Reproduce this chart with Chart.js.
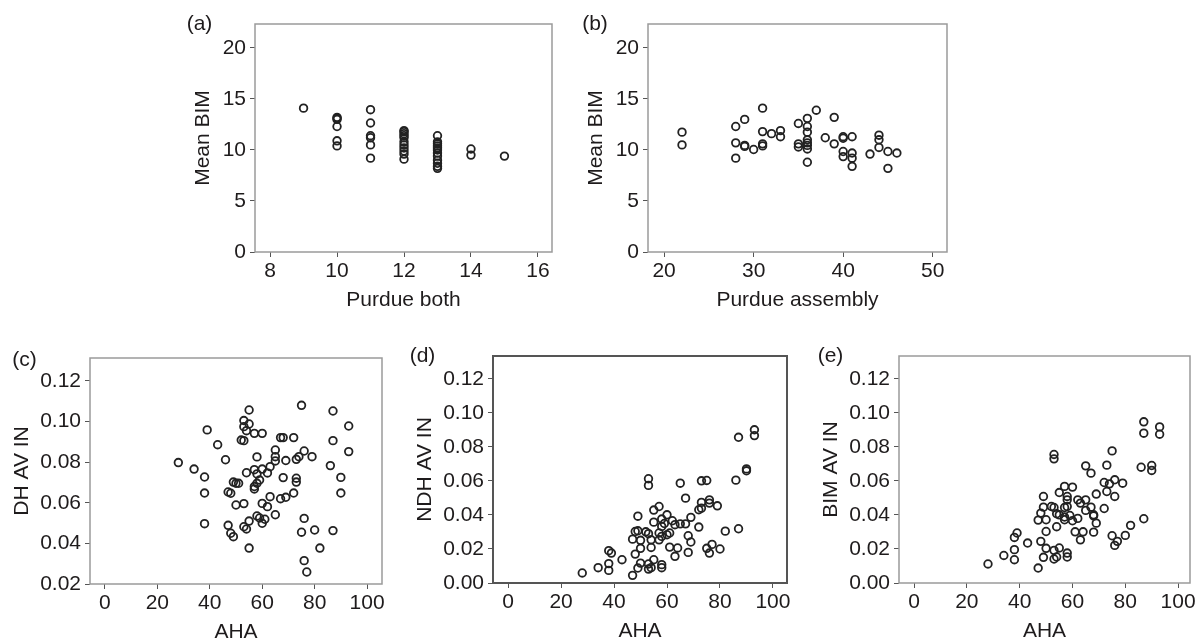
<!DOCTYPE html>
<html>
<head>
<meta charset="utf-8">
<script src="https://cdn.jsdelivr.net/npm/chart.js@4.4.1/dist/chart.umd.min.js"></script>
<style>
  html, body { margin: 0; padding: 0; background: #fff; }
  body { width: 1200px; height: 641px; position: relative; overflow: hidden; }
  canvas { position: absolute; }
</style>
</head>
<body>
<canvas id="ca"></canvas>
<canvas id="cb"></canvas>
<canvas id="cc"></canvas>
<canvas id="cd"></canvas>
<canvas id="ce"></canvas>
<script>
// ---- data ----
const panelLabels = ["(a)", "(b)", "(c)", "(d)", "(e)"];
const xTitles = ["Purdue both", "Purdue assembly", "AHA", "AHA", "AHA"];
const yTitles = ["Mean BIM", "Mean BIM", "DH AV IN", "NDH AV IN", "BIM AV IN"];

const purdueBothTicks = [8, 10, 12, 14, 16];
const purdueAssemblyTicks = [20, 30, 40, 50];
const ahaTicks = [0, 20, 40, 60, 80, 100];
const bimTicks = [0, 5, 10, 15, 20];
const dhTicks = [0.02, 0.04, 0.06, 0.08, 0.10, 0.12];
const avTicks = [0.00, 0.02, 0.04, 0.06, 0.08, 0.10, 0.12];

// (a) Purdue both vs Mean BIM
const purdueBoth = [9, 10, 10, 10, 10, 10, 10, 11, 11, 11, 11, 11, 11,
  12, 12, 12, 12, 12, 12, 12, 12, 12, 12, 12,
  13, 13, 13, 13, 13, 13, 13, 13, 13, 13, 13, 13, 14, 14, 15];
const meanBimA = [14.1, 13.2, 13.1, 13.0, 12.3, 10.9, 10.4, 13.95, 12.65, 11.4, 11.2, 10.5, 9.2,
  11.9, 11.8, 11.6, 11.4, 11.2, 10.8, 10.5, 10.2, 9.9, 9.6, 9.1,
  11.4, 10.8, 10.6, 10.4, 10.2, 10.0, 9.7, 9.4, 9.0, 8.7, 8.4, 8.2, 10.1, 9.5, 9.4];

// (b) Purdue assembly vs Mean BIM
const purdueAssembly = [22, 22, 28, 28, 28, 29, 29, 29, 30, 31, 31, 31, 31, 32, 33,
  33, 35, 35, 35, 36, 36, 36, 36, 36, 36, 36, 36, 37, 38, 39,
  39, 40, 40, 40, 40, 41, 41, 41, 41, 43, 44, 44, 44, 45, 45, 46];
const meanBimB = [11.75, 10.5, 12.3, 10.7, 9.2, 13.0, 10.45, 10.35, 10.05, 14.1, 11.8, 10.6, 10.4, 11.6, 11.9,
  11.3, 12.6, 10.6, 10.3, 13.1, 12.3, 11.75, 11.0, 10.7, 10.45, 10.1, 8.8, 13.9, 11.2, 13.2,
  10.6, 11.3, 11.15, 9.85, 9.35, 11.3, 9.7, 9.2, 8.4, 9.6, 11.45, 11.0, 10.25, 9.85, 8.2, 9.7];

// (c) AHA vs DH AV IN
const ahaC = [28, 34, 38, 38, 38, 39, 43, 46, 47, 48, 47, 48, 49, 49, 50, 51, 50, 52, 53, 53,
  53, 54, 55, 55, 54, 53, 53, 54, 55, 55, 57, 60, 58, 57, 58, 59, 58, 57, 57, 58,
  59, 60, 60, 61, 60, 62, 63, 62, 63, 65, 65, 65, 65, 67, 68, 68, 67, 69, 69, 72,
  73, 74, 72, 73, 73, 75, 76, 76, 75, 76, 77, 79, 80, 82, 86, 87, 87, 87, 90, 90, 93, 93];
const dhAvIn = [0.0798, 0.0766, 0.0727, 0.0648, 0.0497, 0.0959, 0.0886, 0.0812, 0.0653, 0.0647,
  0.0489, 0.0450, 0.0433, 0.0702, 0.0696, 0.0696, 0.0589, 0.0909, 0.0906, 0.1005,
  0.0975, 0.0955, 0.0988, 0.1057, 0.0748, 0.0596, 0.0482, 0.0471, 0.0510, 0.0377,
  0.0942, 0.0942, 0.0826, 0.0763, 0.0742, 0.0712, 0.0696, 0.0680, 0.0668, 0.0535,
  0.0525, 0.0597, 0.0499, 0.0519, 0.0766, 0.0747, 0.0778, 0.0581, 0.0630, 0.0541,
  0.0860, 0.0827, 0.0806, 0.0921, 0.0921, 0.0724, 0.0620, 0.0627, 0.0808, 0.0921,
  0.0814, 0.0827, 0.0648, 0.0721, 0.0702, 0.1080, 0.0855, 0.0523, 0.0455, 0.0315,
  0.0259, 0.0827, 0.0466, 0.0377, 0.0783, 0.1052, 0.0906, 0.0463, 0.0725, 0.0648,
  0.0978, 0.0852];

// (d) AHA vs NDH AV IN
const ahaD = [28, 34, 38, 39, 38, 38, 43, 47, 48, 47, 49, 48, 49, 50, 50, 49, 50, 52, 53, 53,
  53, 53, 53, 54, 54, 54, 55, 55, 55, 57, 57, 57, 58, 58, 58, 58, 58, 60, 60, 59,
  61, 61, 62, 63, 63, 64, 65, 65, 67, 67, 68, 68, 69, 69, 72, 72, 73, 73, 73, 75,
  75, 76, 76, 76, 77, 79, 80, 82, 86, 87, 87, 90, 90, 93, 93];
const ndhAvIn = [0.0059, 0.0090, 0.0190, 0.0176, 0.0114, 0.0074, 0.0137, 0.0258, 0.0170, 0.0045,
  0.0393, 0.0303, 0.0307, 0.0251, 0.0204, 0.0088, 0.0117, 0.0301, 0.0613, 0.0574,
  0.0290, 0.0112, 0.0082, 0.0209, 0.0254, 0.0090, 0.0429, 0.0358, 0.0137, 0.0450,
  0.0294, 0.0254, 0.0376, 0.0333, 0.0274, 0.0108, 0.0090, 0.0401, 0.0284, 0.0350,
  0.0294, 0.0211, 0.0366, 0.0343, 0.0157, 0.0206, 0.0348, 0.0587, 0.0499, 0.0348,
  0.0278, 0.0180, 0.0386, 0.0241, 0.0329, 0.0431, 0.0601, 0.0474, 0.0440, 0.0603,
  0.0204, 0.0489, 0.0470, 0.0176, 0.0227, 0.0454, 0.0200, 0.0305, 0.0605, 0.0857,
  0.0319, 0.0671, 0.0660, 0.0901, 0.0867];

// (e) AHA vs BIM AV IN
const ahaE = [28, 34, 38, 38, 38, 39, 43, 47, 48, 48, 47, 49, 49, 49, 50, 50, 50, 52, 53, 53,
  53, 53, 53, 54, 54, 54, 55, 55, 55, 57, 57, 57, 57, 58, 58, 58, 58, 58, 60, 60,
  59, 61, 62, 62, 63, 63, 64, 65, 65, 65, 67, 67, 68, 68, 68, 69, 69, 72, 72, 73,
  73, 74, 75, 75, 76, 76, 76, 77, 79, 80, 82, 86, 87, 87, 87, 90, 90, 93, 93];
const bimAvIn = [0.0112, 0.0162, 0.0196, 0.0137, 0.0268, 0.0294, 0.0235, 0.0370, 0.0411, 0.0245,
  0.0088, 0.0509, 0.0446, 0.0151, 0.0372, 0.0303, 0.0204, 0.0450, 0.0756, 0.0730,
  0.0444, 0.0192, 0.0141, 0.0407, 0.0331, 0.0153, 0.0532, 0.0401, 0.0206, 0.0568,
  0.0444, 0.0372, 0.0388, 0.0509, 0.0489, 0.0450, 0.0176, 0.0153, 0.0564, 0.0366,
  0.0397, 0.0301, 0.0489, 0.0380, 0.0470, 0.0254, 0.0301, 0.0489, 0.0427, 0.0689,
  0.0646, 0.0446, 0.0401, 0.0395, 0.0299, 0.0352, 0.0523, 0.0438, 0.0591, 0.0693,
  0.0538, 0.0583, 0.0777, 0.0278, 0.0607, 0.0509, 0.0221, 0.0245, 0.0587, 0.0280,
  0.0339, 0.0681, 0.0948, 0.0881, 0.0378, 0.0691, 0.0662, 0.0918, 0.0875];

// ---- layout ----
const FONT = "'Liberation Sans', Arial, Helvetica, sans-serif";
const INK = "#1e1b1c";
const PAD = { left: 4, top: 22, right: 25, bottom: 2 };
const X_AXIS_H = 65;

const panels = [
  { id: "ca", xs: purdueBoth, ys: meanBimA, xTicks: purdueBothTicks, yTicks: bimTicks, dec: 0,
    xMin: 7.55, xMax: 16.42, yMin: 0, yMax: 22.35,
    box: { l: 255, t: 24, r: 552, b: 252 }, yw: 68, lab: [-55.5, 0], frame: "#9a9a9a", fw: 1.5 },
  { id: "cb", xs: purdueAssembly, ys: meanBimB, xTicks: purdueAssemblyTicks, yTicks: bimTicks, dec: 0,
    xMin: 18.2, xMax: 51.6, yMin: 0, yMax: 22.35,
    box: { l: 648, t: 24, r: 947, b: 252 }, yw: 68, lab: [-53, 0], frame: "#9a9a9a", fw: 1.5 },
  { id: "cc", xs: ahaC, ys: dhAvIn, xTicks: ahaTicks, yTicks: dhTicks, dec: 2,
    xMin: -5.7, xMax: 105.7, yMin: 0.02, yMax: 0.1313,
    box: { l: 90, t: 358, r: 382, b: 584 }, yw: 84, lab: [-65.5, 2], frame: "#9a9a9a", fw: 1.5 },
  { id: "cd", xs: ahaD, ys: ndhAvIn, xTicks: ahaTicks, yTicks: avTicks, dec: 2,
    xMin: -5.7, xMax: 105.3, yMin: 0, yMax: 0.1335,
    box: { l: 493, t: 356, r: 787, b: 583 }, yw: 84, lab: [-70.5, 0], frame: "#555555", fw: 2 },
  { id: "ce", xs: ahaE, ys: bimAvIn, xTicks: ahaTicks, yTicks: avTicks, dec: 2,
    xMin: -5.7, xMax: 104.5, yMin: 0, yMax: 0.1335,
    box: { l: 899, t: 356, r: 1190, b: 583 }, yw: 84, lab: [-68.5, 0], frame: "#9a9a9a", fw: 1.5 },
];

// frame around the plot area + the panel letter
const framePlugin = {
  id: "frame",
  beforeDatasetsDraw(chart, args, opts) {
    const { ctx, chartArea: a } = chart;
    ctx.save();
    ctx.strokeStyle = opts.color;
    ctx.lineWidth = opts.width;
    ctx.strokeRect(a.left, a.top, a.right - a.left, a.bottom - a.top);
    ctx.restore();
  },
  afterDraw(chart, args, opts) {
    const { ctx, chartArea: a } = chart;
    ctx.save();
    ctx.fillStyle = INK;
    ctx.font = "21px " + FONT;
    ctx.textAlign = "center";
    ctx.textBaseline = "middle";
    ctx.fillText(opts.label, a.left + opts.dx, a.top + opts.dy);
    ctx.restore();
  },
};

function makeAxis(p, horizontal, i) {
  const ticks = horizontal ? p.xTicks : p.yTicks;
  return {
    type: "linear",
    min: horizontal ? p.xMin : p.yMin,
    max: horizontal ? p.xMax : p.yMax,
    afterBuildTicks: (s) => { s.ticks = ticks.map(v => ({ value: v })); },
    afterFit: (s) => {
      if (horizontal) s.height = X_AXIS_H;
      else s.width = p.yw;
    },
    border: { display: false },
    grid: { drawOnChartArea: false, drawTicks: true, tickLength: 5, color: "#555", lineWidth: 1 },
    ticks: {
      color: INK,
      padding: horizontal ? 2 : 4,
      font: { family: FONT, size: 21 },
      maxRotation: 0,
      autoSkip: false,
      callback: (v) => horizontal ? String(v) : v.toFixed(p.dec),
    },
    title: {
      display: true,
      text: horizontal ? xTitles[i] : yTitles[i],
      color: INK,
      font: { family: FONT, size: 21 },
      padding: { top: 4, bottom: 4 },
    },
  };
}

panels.forEach((p, i) => {
  const cv = document.getElementById(p.id);
  const w = (p.box.r - p.box.l) + p.yw + PAD.left + PAD.right;
  const h = (p.box.b - p.box.t) + PAD.top + X_AXIS_H + PAD.bottom;
  cv.width = w;
  cv.height = h;
  cv.style.width = w + "px";
  cv.style.height = h + "px";
  cv.style.left = (p.box.l - p.yw - PAD.left) + "px";
  cv.style.top = (p.box.t - PAD.top) + "px";

  new Chart(cv, {
    type: "scatter",
    data: {
      datasets: [{
        data: p.xs.map((x, k) => ({ x: x, y: p.ys[k] })),
        pointStyle: "circle",
        pointRadius: 3.8,
        pointBorderWidth: 1.8,
        pointBorderColor: "#222222",
        pointBackgroundColor: "rgba(0,0,0,0)",
        showLine: false,
      }],
    },
    options: {
      responsive: false,
      devicePixelRatio: 1,
      animation: false,
      layout: { padding: PAD },
      plugins: {
        legend: { display: false },
        tooltip: { enabled: false },
        frame: { color: p.frame, width: p.fw, label: panelLabels[i], dx: p.lab[0], dy: p.lab[1] },
      },
      scales: {
        x: makeAxis(p, true, i),
        y: makeAxis(p, false, i),
      },
    },
    plugins: [framePlugin],
  });
});
</script>
</body>
</html>
